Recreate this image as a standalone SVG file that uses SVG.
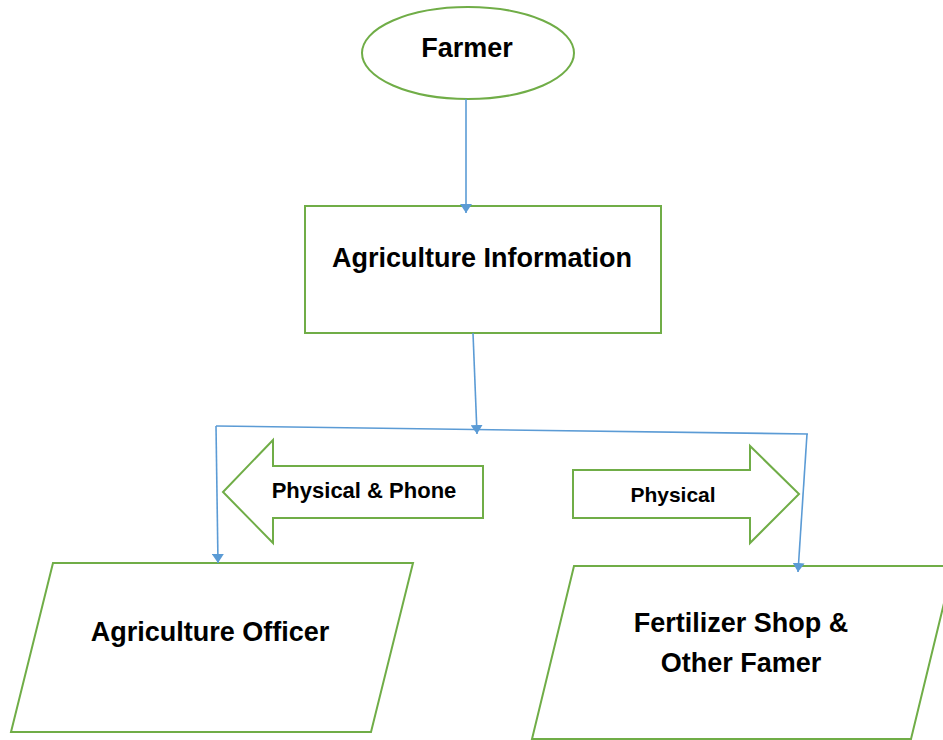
<svg xmlns="http://www.w3.org/2000/svg" width="943" height="740" viewBox="0 0 943 740">
  <defs>
    <style>
      .shape { fill: #ffffff; stroke: #70AD47; stroke-width: 2; }
      .conn { fill: none; stroke: #5B9BD5; stroke-width: 1.6; }
      .lbl { font-family: "Liberation Sans", Arial, sans-serif; font-weight: bold; fill: #000000; text-anchor: middle; }
    </style>
    <marker id="arrow" viewBox="0 0 9 12" refX="9" refY="6" markerUnits="userSpaceOnUse" markerWidth="9" markerHeight="12" orient="auto">
      <path d="M0,0 L9,6 L0,12 z" fill="#5B9BD5"/>
    </marker>
  </defs>

  <rect width="943" height="740" fill="#ffffff"/>

  <g id="farmer">
    <ellipse class="shape" cx="468" cy="53" rx="106" ry="46"/>
    <text class="lbl" x="467" y="57" font-size="27">Farmer</text>
  </g>

  <g id="agriculture-information">
    <rect class="shape" x="305" y="206" width="356" height="127"/>
    <text class="lbl" x="482" y="267" font-size="27">Agriculture Information</text>
  </g>

  <g id="physical-phone">
    <polygon class="shape" points="483,466 273,466 273,440 223,492 273,543 273,518 483,518"/>
    <text class="lbl" x="364" y="498" font-size="22">Physical &amp; Phone</text>
  </g>

  <g id="physical">
    <polygon class="shape" points="573,470 750,470 750,446 799,494 750,543 750,518 573,518"/>
    <text class="lbl" x="673" y="502" font-size="21">Physical</text>
  </g>

  <g id="agriculture-officer">
    <polygon class="shape" points="53,563 413,563 371,732 11,732"/>
    <text class="lbl" x="210" y="641" font-size="27">Agriculture Officer</text>
  </g>

  <g id="fertilizer-shop">
    <polygon class="shape" points="574,566 953,566 911,739 532,739"/>
    <text class="lbl" x="741" y="632" font-size="27">Fertilizer Shop &amp;</text>
    <text class="lbl" x="741" y="672" font-size="27">Other Famer</text>
  </g>

  <!-- connectors, drawn on top so the arrowheads sit over the borders -->
  <g id="connectors">
    <line class="conn" x1="466" y1="99" x2="466" y2="213" marker-end="url(#arrow)"/>
    <line class="conn" x1="473" y1="333" x2="477" y2="434" marker-end="url(#arrow)"/>
    <line class="conn" x1="216" y1="426" x2="808" y2="434"/>
    <line class="conn" x1="216" y1="426" x2="218" y2="563" marker-end="url(#arrow)"/>
    <line class="conn" x1="807" y1="434" x2="798" y2="572" marker-end="url(#arrow)"/>
  </g>
</svg>
